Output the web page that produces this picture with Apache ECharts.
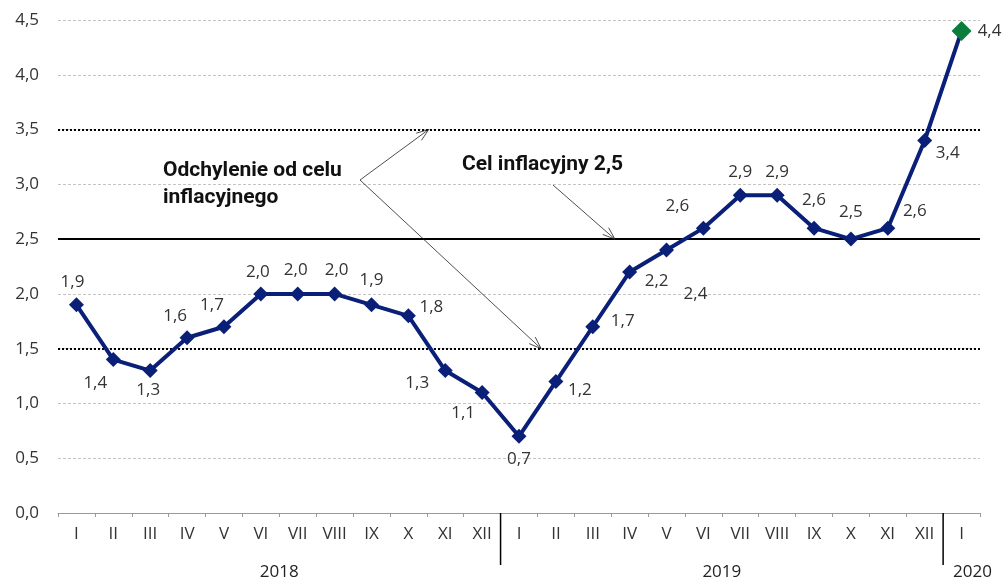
<!DOCTYPE html>
<html><head><meta charset="utf-8">
<script src="https://cdn.jsdelivr.net/npm/echarts@6/dist/echarts.min.js"></script>
<style>html,body{margin:0;padding:0;background:#fff}#c{width:1003px;height:580px}</style>
</head><body><div id="c"></div>
<script>
const months = ['I','II','III','IV','V','VI','VII','VIII','IX','X','XI','XII','I','II','III','IV','V','VI','VII','VIII','IX','X','XI','XII','I'];
const values = [1.9,1.4,1.3,1.6,1.7,2.0,2.0,2.0,1.9,1.8,1.3,1.1,0.7,1.2,1.7,2.2,2.4,2.6,2.9,2.9,2.6,2.5,2.6,3.4,4.4];
const years = ['2018','2019','2020'];
const yearStart = [0,12,24];
const yearEnd = [11,23,24];
const targetLine = 2.5;
const bandLines = [1.5,3.5];

// label offsets (style only)
const labelOffsets = [[-4,-23],[-18,24],[-2,20],[-12,-22],[-12,-22],[-3,-22],[-2,-24],[2,-24],[0,-25],[23,-9],[-28,13],[-19,21],[0,23],[24,9],[30,-6],[27,9],[29,44],[-26,-22],[0,-23],[0,-23],[0,-28],[0,-27],[27,-17],[23,13],[28,0]];

const chart = echarts.init(document.getElementById('c'));
const FONT = '"Open Sans", sans-serif';
const navy = '#0a1f78';
const green = '#0b7d3c';

const seriesData = values.map((v,i)=>({
  value: v,
  itemStyle: i===values.length-1 ? {color: green} : undefined,
  symbolSize: i===values.length-1 ? 20 : 15,
  label: {offset: labelOffsets[i]}
}));

chart.setOption({
  animation: false,
  grid: {left: 58, right: 23, top: 20, bottom: 67},
  xAxis: {
    type: 'category', data: months, boundaryGap: true,
    axisLine: {lineStyle: {color: '#9a9a9a', width: 1}},
    axisTick: {show: true, interval: 0, length: 4, lineStyle: {color: '#9a9a9a'}},
    axisLabel: {interval: 0, color: '#333', fontFamily: FONT, fontSize: 17, margin: 13},
    splitLine: {show: false}
  },
  yAxis: {
    type: 'value', min: 0, max: 4.5, interval: 0.5,
    axisLine: {show: false}, axisTick: {show: false},
    axisLabel: {color: '#333', fontFamily: FONT, fontSize: 17, margin: 19,
      formatter: v => v.toFixed(1).replace('.', ',')},
    splitLine: {lineStyle: {color: '#c4c4c4', type: [3,2], width: 1}}
  },
  series: [{
    type: 'line', data: seriesData,
    lineStyle: {color: navy, width: 4},
    itemStyle: {color: navy},
    symbol: 'diamond', symbolSize: 15,
    label: {show: true, position: 'inside', color: '#333', fontFamily: FONT, fontSize: 17,
      formatter: p => p.value.toFixed(1).replace('.', ',')},
    markLine: {
      silent: true, symbol: 'none', label: {show: false},
      data: [
        {yAxis: targetLine, lineStyle: {color: '#000', width: 2, type: 'solid'}},
        {yAxis: bandLines[0], lineStyle: {color: '#000', width: 2, type: [2,2]}},
        {yAxis: bandLines[1], lineStyle: {color: '#000', width: 2, type: [2,2]}}
      ]
    },
    z: 5
  }]
});

const base = chart.convertToPixel({gridIndex:0}, [0, 0]);
const step = chart.convertToPixel({gridIndex:0}, [1, 0])[0] - base[0];
function px(i, v){ return [base[0] + i*step, chart.convertToPixel({yAxisIndex:0}, v)]; }
const axisY = base[1];
const g = [];
for (let k=0;k<years.length;k++){
  const x0 = px(yearStart[k],0)[0] - step/2;
  const x1 = px(yearEnd[k],0)[0] + step/2;
  if (k>0) g.push({type:'line', shape:{x1:x0, y1:axisY, x2:x0, y2:axisY+52}, style:{stroke:'#000', lineWidth:1.5}, z:10});
  const last = k===years.length-1;
  g.push({type:'text', x: last ? x0+10 : (x0+x1)/2, y:axisY+59, style:{text:years[k], font:'17px '+FONT, fill:'#222', align: last ? 'left' : 'center', verticalAlign:'middle'}, z:10});
}
function arrow(x1,y1,x2,y2){
  g.push({type:'line', shape:{x1,y1,x2,y2}, style:{stroke:'#222', lineWidth:0.8}, z:10});
  const a = Math.atan2(y2-y1, x2-x1), L=13, s=0.35;
  g.push({type:'polyline', shape:{points:[[x2-L*Math.cos(a-s), y2-L*Math.sin(a-s)],[x2,y2],[x2-L*Math.cos(a+s), y2-L*Math.sin(a+s)]]}, style:{stroke:'#222', lineWidth:0.8, fill:null}, z:10});
}
const p35 = px(9.55, 3.5), p15 = px(12.6, 1.5), p25 = px(14.6, 2.5);
arrow(360,180,p35[0],p35[1]);
arrow(360,180,p15[0],p15[1]);
arrow(553,185,p25[0],p25[1]);
const AF = 'bold 21px Roboto, sans-serif';
g.push({type:'text', x:163, y:171, style:{text:'Odchylenie od celu', font:AF, fill:'#111', verticalAlign:'middle'}, z:10});
g.push({type:'text', x:163, y:198, style:{text:'inflacyjnego', font:AF, fill:'#111', verticalAlign:'middle'}, z:10});
g.push({type:'text', x:462, y:165, style:{text:'Cel inflacyjny 2,5', font:AF, fill:'#111', verticalAlign:'middle'}, z:10});
chart.setOption({graphic: g});
</script></body></html>
